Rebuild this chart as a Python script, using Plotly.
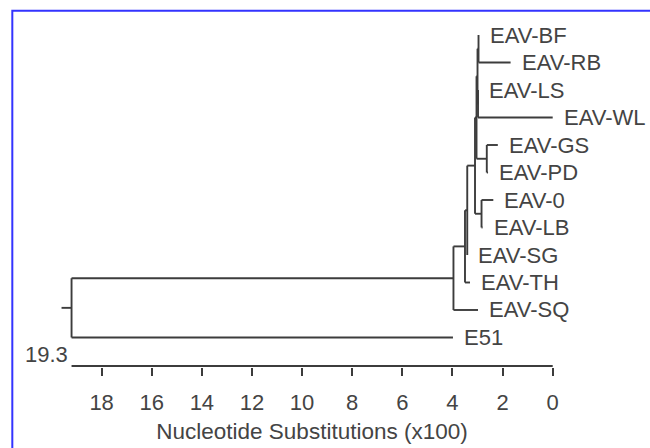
import plotly.graph_objects as go

# ---------------- data ----------------
leaf_names = ["EAV-BF", "EAV-RB", "EAV-LS", "EAV-WL", "EAV-GS", "EAV-PD",
              "EAV-0", "EAV-LB", "EAV-SG", "EAV-TH", "EAV-SQ", "E51"]
# tip position, nucleotide substitutions (x100) measured from the right
leaf_depth = [2.96, 1.68, 2.98, 0.0, 2.19, 2.58, 2.37, 2.80, 3.41, 3.30, 2.98, 3.98]

node_names = ["T", "U", "S", "X", "R", "Q", "P", "D", "B", "A", "root"]
node_children = [["EAV-BF", "EAV-RB"], ["EAV-LS", "EAV-WL"], ["T", "U"],
                 ["EAV-GS", "EAV-PD"], ["S", "X"], ["EAV-0", "EAV-LB"],
                 ["R", "Q"], ["P", "EAV-SG"], ["D", "EAV-TH"], ["B", "EAV-SQ"],
                 ["A", "E51"]]
node_depth = [2.96, 2.98, 3.00, 2.63, 3.04, 2.84, 3.10, 3.41, 3.50, 3.96, 19.2]

tick_values = [0, 2, 4, 6, 8, 10, 12, 14, 16, 18]
tick_labels = ["0", "2", "4", "6", "8", "10", "12", "14", "16", "18"]
scale_label = "19.3"
axis_title = "Nucleotide Substitutions (x100)"

# ---------------- build tree geometry ----------------
depth = {n: d for n, d in zip(leaf_names, leaf_depth)}
depth.update({n: d for n, d in zip(node_names, node_depth)})
ypos = {n: i for i, n in enumerate(leaf_names)}
for n, ch in zip(node_names, node_children):
    ypos[n] = (ypos[ch[0]] + ypos[ch[-1]]) / 2.0

xs, ys = [], []
for n, ch in zip(node_names, node_children):
    xs += [depth[n], depth[n], None]
    ys += [ypos[ch[0]], ypos[ch[-1]], None]
    for c in ch:
        xs += [depth[n], depth[c], None]
        ys += [ypos[c], ypos[c], None]
root = node_names[-1]
xs += [depth[root] + 0.4, depth[root], None]
ys += [ypos[root], ypos[root], None]

LINE = "#3c3c3c"
TXT = "#444444"
FONT = "Liberation Sans, Arial, sans-serif"

fig = go.Figure()
fig.add_trace(go.Scatter(x=xs, y=ys, mode="lines",
                         line=dict(color=LINE, width=1.9),
                         hoverinfo="skip", showlegend=False))

bar_y = 12.035
fig.add_trace(go.Scatter(x=[depth[root], 0], y=[bar_y, bar_y], mode="lines",
                         line=dict(color=LINE, width=2),
                         hoverinfo="skip", showlegend=False))

annotations = []
for n in leaf_names:
    annotations.append(dict(x=depth[n], y=ypos[n], xref="x", yref="y",
                            text=n, showarrow=False, xanchor="left",
                            yanchor="middle", xshift=9,
                            font=dict(family=FONT, size=22, color=TXT)))
annotations.append(dict(x=depth[root], y=bar_y, xref="x", yref="y",
                        text=scale_label, showarrow=False, xanchor="right",
                        yanchor="middle", xshift=-2, yshift=11,
                        font=dict(family=FONT, size=22, color=TXT)))

fig.update_layout(
    width=650, height=448,
    margin=dict(l=40, r=66, t=5, b=81),
    paper_bgcolor="white", plot_bgcolor="white",
    annotations=annotations,
    xaxis=dict(range=[20.459, -1.249], showgrid=False, zeroline=False,
               showline=False, tickmode="array", tickvals=tick_values,
               ticktext=tick_labels, ticks="outside", ticklen=8,
               tickwidth=2, tickcolor=LINE, ticklabelstandoff=8,
               tickfont=dict(family=FONT, size=22, color=TXT),
               title=dict(text=axis_title, standoff=8,
                          font=dict(family=FONT, size=22.5, color=TXT))),
    yaxis=dict(range=[12.073, -1.091], showgrid=False, zeroline=False,
               showline=False, showticklabels=False, ticks=""),
    shapes=[dict(type="rect", xref="paper", yref="paper",
                 x0=-0.0509, x1=1.2, y0=-0.3, y1=0.9843,
                 line=dict(color="#3333ff", width=2), layer="above")],
)

fig.write_html("out.html", config={"displayModeBar": False},
               post_script="document.body.style.margin='0';"
                           "document.body.style.overflow='hidden';")
